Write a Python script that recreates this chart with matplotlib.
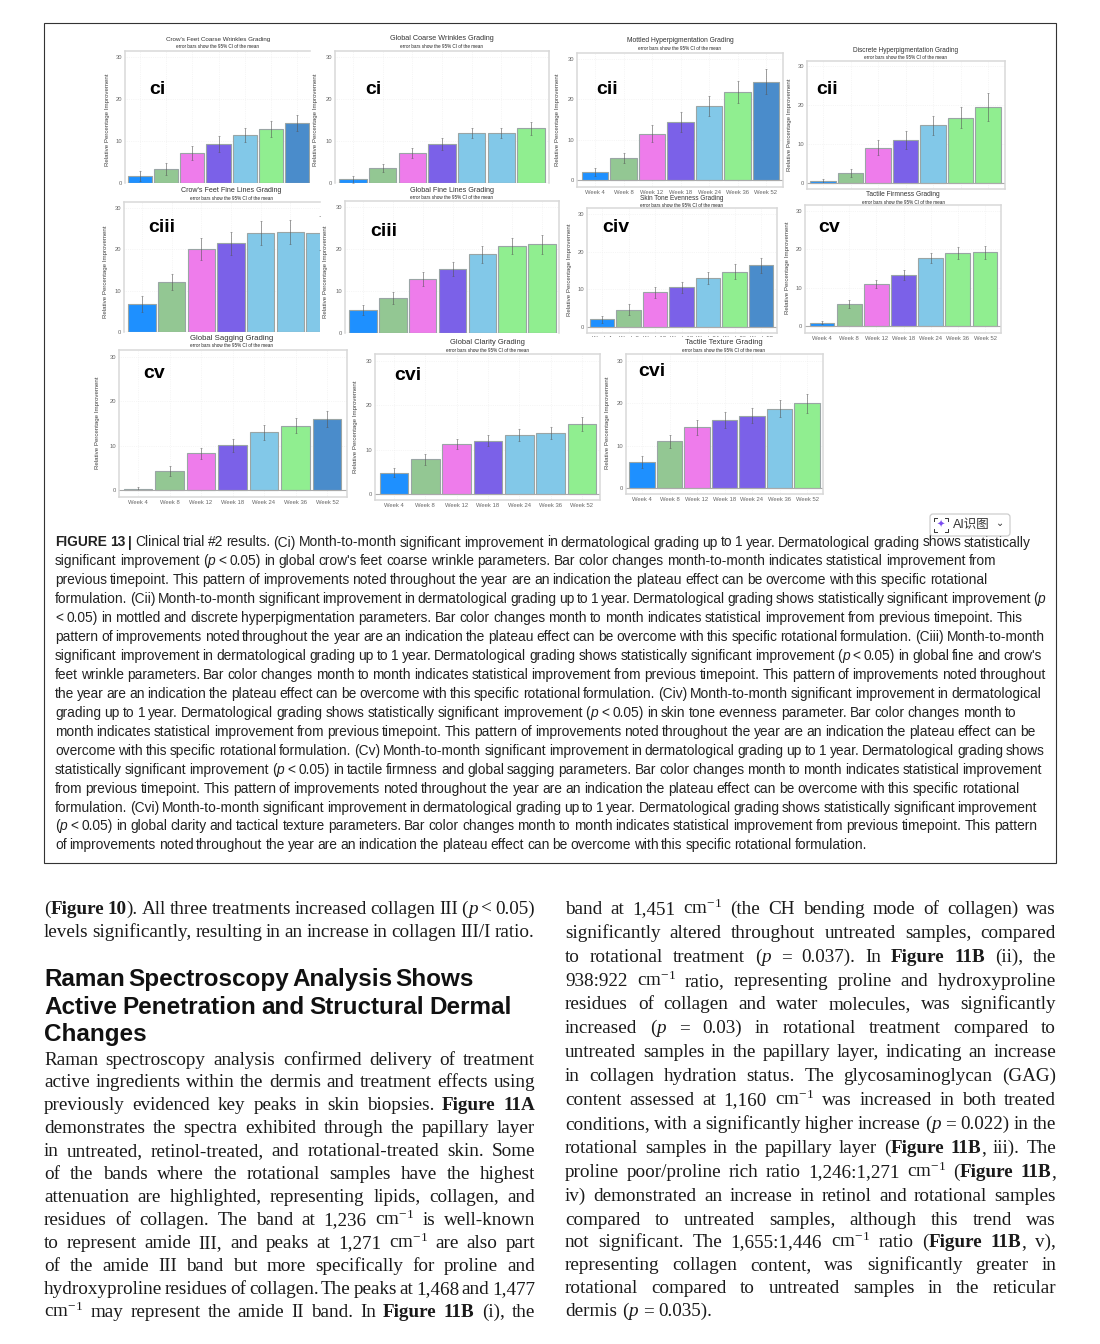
#!/usr/bin/python3

import re
import numpy as np
import matplotlib
matplotlib.use("Agg")
import matplotlib.pyplot as plt
from matplotlib.patches import FancyBboxPatch, Rectangle

plt.rcParams["font.family"] = ["Liberation Sans", "Noto Sans CJK SC", "DejaVu Sans"]
plt.rcParams["mathtext.fontset"] = "custom"
plt.rcParams["mathtext.rm"] = "Liberation Serif"
plt.rcParams["mathtext.default"] = "rm"

WEEKS = ["Week 4", "Week 8", "Week 12", "Week 18", "Week 24", "Week 36", "Week 52"]

TITLES = ["Crow's Feet Coarse Wrinkles Grading", "Global Coarse Wrinkles Grading",
          "Mottled Hyperpigmentation Grading", "Discrete Hyperpigmentation Grading",
          "Crow's Feet Fine Lines Grading", "Global Fine Lines Grading",
          "Skin Tone Evenness Grading", "Tactile Firmness Grading",
          "Global Sagging Grading", "Global Clarity Grading", "Tactile Texture Grading"]
TAGS = ["ci", "ci", "cii", "cii", "ciii", "ciii", "civ", "cv", "cv", "cvi", "cvi"]

VALUES = [
    [1.7, 3.3, 7.1, 9.3, 11.5, 12.9, 14.2],
    [0.9, 3.6, 7.2, 9.2, 11.9, 11.9, 13.0],
    [1.9, 5.4, 11.5, 14.4, 18.4, 21.8, 24.4],
    [0.5, 2.6, 9.1, 11.1, 14.8, 16.7, 19.6],
    [6.8, 12.0, 20.0, 21.4, 23.9, 24.1, 23.9],
    [5.4, 8.3, 12.9, 15.3, 18.7, 20.6, 21.1],
    [2.0, 4.6, 9.2, 10.5, 12.9, 14.7, 16.4],
    [0.9, 5.8, 10.9, 13.4, 17.7, 19.0, 19.3],
    [0.3, 4.3, 8.3, 10.1, 13.0, 14.5, 16.0],
    [4.8, 7.8, 11.2, 12.0, 13.3, 13.8, 15.8],
    [6.2, 11.0, 14.3, 16.0, 17.1, 18.7, 20.0],
]
ERRORS = [
    [1.2, 1.4, 1.6, 1.8, 1.7, 1.9, 1.9],
    [0.8, 1.0, 1.2, 1.4, 1.3, 1.3, 1.5],
    [1.0, 1.3, 2.1, 2.4, 2.5, 2.7, 3.1],
    [0.4, 1.0, 2.0, 2.3, 2.5, 2.7, 3.6],
    [1.9, 1.9, 2.6, 2.8, 2.9, 2.9, 4.2],
    [1.2, 1.4, 1.6, 1.7, 2.0, 1.9, 2.2],
    [1.0, 1.4, 1.4, 1.5, 1.6, 1.9, 2.0],
    [0.5, 1.0, 1.1, 1.3, 1.3, 1.6, 1.7],
    [0.3, 1.1, 1.2, 1.5, 1.7, 1.7, 1.8],
    [1.0, 1.2, 1.1, 1.2, 1.4, 1.4, 1.5],
    [1.4, 1.5, 1.7, 1.9, 1.8, 2.0, 2.2],
]

BLUE, SAGE, PINK, PURPLE, SKY, GREEN, STEEL = ("#1E90FF", "#93C793", "#EE7CEB", "#7B61E8",
                                               "#82C8E8", "#90EE90", "#4A8CCB")
COLORS = [
    [BLUE, SAGE, PINK, PURPLE, SKY, GREEN, STEEL],
    [BLUE, SAGE, PINK, PURPLE, SKY, SKY, GREEN],
    [BLUE, SAGE, PINK, PURPLE, SKY, GREEN, STEEL],
    [BLUE, SAGE, PINK, PURPLE, SKY, GREEN, GREEN],
    [BLUE, SAGE, PINK, PURPLE, SKY, SKY, SKY],
    [BLUE, SAGE, PINK, PURPLE, SKY, GREEN, GREEN],
    [BLUE, SAGE, PINK, PURPLE, SKY, GREEN, STEEL],
    [BLUE, SAGE, PINK, PURPLE, SKY, GREEN, GREEN],
    [BLUE, SAGE, PINK, PURPLE, SKY, GREEN, STEEL],
    [BLUE, SAGE, PINK, PURPLE, SKY, SKY, GREEN],
    [BLUE, SAGE, PINK, PURPLE, PURPLE, SKY, GREEN],
]

# left, top, right, bottom, pixel of y=30, pixel of y=0, first bar centre, last bar centre
BOXES = [
    (125, 51, 310, 183, 57, 183, 140, 297),
    (335, 51, 549, 183, 57, 183, 353, 531),
    (577, 53, 783, 187, 59, 180, 595, 766),
    (807, 61, 1005, 189, 66, 183, 823, 988),
    (124, 202, 320, 332, 208, 335.5, 142, 320),
    (345, 201, 559, 333, 207, 334, 363, 542),
    (587, 208, 777, 333, 214, 327, 602, 761),
    (805, 205, 1001, 333, 211, 326, 822, 985),
    (119, 350, 347, 497, 357, 490, 138, 327),
    (375, 354, 600, 500, 361, 494, 394, 582),
    (626, 354, 823, 494, 361, 488, 642, 807),
]
TITLE_POS = [(218, 39), (442, 39), (680, 41), (906, 50), (231, 191), (452, 190),
             (682, 198), (903, 195), (232, 338), (487, 343), (724, 343)]
TITLE_SIZE = [4.5, 5.2, 4.9, 4.7, 5.1, 5.2, 4.7, 4.8, 5.6, 5.4, 5.4]
TAG_POS = [(157, 90), (373, 90), (607, 90), (827, 90), (162, 228), (384, 232),
           (616, 228), (829, 228), (154, 373), (408, 375), (652, 371)]
YLABEL_POS = [(107, 120), (316, 120), (558, 120), (789, 125), (105, 272), (325, 272),
              (569, 270), (788, 268), (98, 423), (356, 427), (608, 423)]
HAS_WEEKS = [False, False, True, False, False, False, True, True, True, True, True]

CAPTION = [
    ("<b>FIGURE 13 |</b> Clinical trial #2 results. (Ci) Month-to-month significant improvement in dermatological grading up to 1 year. Dermatological grading shows statistically", 1031),
    ("significant improvement (<i>p</i> < 0.05) in global crow's feet coarse wrinkle parameters. Bar color changes month-to-month indicates statistical improvement from", 996),
    ("previous timepoint. This pattern of improvements noted throughout the year are an indication the plateau effect can be overcome with this specific rotational", 987),
    ("formulation. (Cii) Month-to-month significant improvement in dermatological grading up to 1 year. Dermatological grading shows statistically significant improvement (<i>p</i>", 1045),
    ("< 0.05) in mottled and discrete hyperpigmentation parameters. Bar color changes month to month indicates statistical improvement from previous timepoint. This", 1023),
    ("pattern of improvements noted throughout the year are an indication the plateau effect can be overcome with this specific rotational formulation. (Ciii) Month-to-month", 1045),
    ("significant improvement in dermatological grading up to 1 year. Dermatological grading shows statistically significant improvement (<i>p</i> < 0.05) in global fine and crow's", 1042),
    ("feet wrinkle parameters. Bar color changes month to month indicates statistical improvement from previous timepoint. This pattern of improvements noted throughout", 1046),
    ("the year are an indication the plateau effect can be overcome with this specific rotational formulation. (Civ) Month-to-month significant improvement in dermatological", 1041),
    ("grading up to 1 year. Dermatological grading shows statistically significant improvement (<i>p</i> < 0.05) in skin tone evenness parameter. Bar color changes month to", 1016),
    ("month indicates statistical improvement from previous timepoint. This pattern of improvements noted throughout the year are an indication the plateau effect can be", 1035),
    ("overcome with this specific rotational formulation. (Cv) Month-to-month significant improvement in dermatological grading up to 1 year. Dermatological grading shows", 1045),
    ("statistically significant improvement (<i>p</i> < 0.05) in tactile firmness and global sagging parameters. Bar color changes month to month indicates statistical improvement", 1042),
    ("from previous timepoint. This pattern of improvements noted throughout the year are an indication the plateau effect can be overcome with this specific rotational", 1019),
    ("formulation. (Cvi) Month-to-month significant improvement in dermatological grading up to 1 year. Dermatological grading shows statistically significant improvement", 1037),
    ("(<i>p</i> < 0.05) in global clarity and tactical texture parameters. Bar color changes month to month indicates statistical improvement from previous timepoint. This pattern", 1037),
    ("of improvements noted throughout the year are an indication the plateau effect can be overcome with this specific rotational formulation.", 867),
]

LEFT_TOP = [
    ("(<b>Figure 10</b>). All three treatments increased collagen III (<i>p</i> < 0.05)", 908),
    ("levels significantly, resulting in an increase in collagen III/I ratio.", 931),
]
HEADING = [("Raman Spectroscopy Analysis Shows", 978, 474),
           ("Active Penetration and Structural Dermal", 1006, 512),
           ("Changes", 1033, 145)]
LEFT_BODY = [
    ("Raman spectroscopy analysis confirmed delivery of treatment", 1059),
    ("active ingredients within the dermis and treatment effects using", 1081),
    ("previously evidenced key peaks in skin biopsies. <b>Figure 11A</b>", 1104),
    ("demonstrates the spectra exhibited through the papillary layer", 1127),
    ("in untreated, retinol-treated, and rotational-treated skin. Some", 1150),
    ("of the bands where the rotational samples have the highest", 1173),
    ("attenuation are highlighted, representing lipids, collagen, and", 1196),
    ("residues of collagen. The band at 1,236 cm$^{-1}$ is well-known", 1219),
    ("to represent amide III, and peaks at 1,271 cm$^{-1}$ are also part", 1242),
    ("of the amide III band but more specifically for proline and", 1265),
    ("hydroxyproline residues of collagen. The peaks at 1,468 and 1,477", 1288),
    ("cm$^{-1}$ may represent the amide II band. In <b>Figure 11B</b> (i), the", 1311),
]
RIGHT_BODY = [
    ("band at 1,451 cm$^{-1}$ (the CH bending mode of collagen) was", 908),
    ("significantly altered throughout untreated samples, compared", 932),
    ("to rotational treatment (<i>p</i> = 0.037). In <b>Figure 11B</b> (ii), the", 956),
    ("938:922 cm$^{-1}$ ratio, representing proline and hydroxyproline", 980),
    ("residues of collagen and water molecules, was significantly", 1003),
    ("increased (<i>p</i> = 0.03) in rotational treatment compared to", 1027),
    ("untreated samples in the papillary layer, indicating an increase", 1051),
    ("in collagen hydration status. The glycosaminoglycan (GAG)", 1075),
    ("content assessed at 1,160 cm$^{-1}$ was increased in both treated", 1099),
    ("conditions, with a significantly higher increase (<i>p</i> = 0.022) in the", 1123),
    ("rotational samples in the papillary layer (<b>Figure 11B</b>, iii). The", 1147),
    ("proline poor/proline rich ratio 1,246:1,271 cm$^{-1}$ (<b>Figure 11B</b>,", 1171),
    ("iv) demonstrated an increase in retinol and rotational samples", 1195),
    ("compared to untreated samples, although this trend was", 1219),
    ("not significant. The 1,655:1,446 cm$^{-1}$ ratio (<b>Figure 11B</b>, v),", 1241),
    ("representing collagen content, was significantly greater in", 1264),
    ("rotational compared to untreated samples in the reticular", 1287),
    ("dermis (<i>p</i> = 0.035).", 1310),
]

W, H = 1100, 1344
fig = plt.figure(figsize=(W / 100, H / 100), dpi=100, facecolor="white")
page = fig.add_axes([0, 0, 1, 1], zorder=1)
page.set_xlim(0, W)
page.set_ylim(H, 0)
page.axis("off")
top = fig.add_axes([0, 0, 1, 1], zorder=5)
top.set_xlim(0, W)
top.set_ylim(H, 0)
top.axis("off")
top.patch.set_alpha(0)
renderer = fig.canvas.get_renderer()


def draw_panel(i):
    left, ptop, right, bottom, y30, y0, c0, c6 = BOXES[i]
    ax = fig.add_axes([left / W, 1 - bottom / H, (right - left) / W, (bottom - ptop) / H], zorder=2)
    step = (c6 - c0) / 6
    ax.set_xlim((left - c0) / step, (right - c0) / step)
    per = (y0 - y30) / 30
    ax.set_ylim((y0 - bottom) / per, (y0 - ptop) / per)
    x = np.arange(7)
    ax.grid(True, color="#eeeeee", lw=0.5, ls=":")
    ax.set_axisbelow(True)
    ax.bar(x, VALUES[i], width=0.92, color=COLORS[i], edgecolor="#9aa5a5", linewidth=0.8)
    ax.errorbar(x, VALUES[i], yerr=ERRORS[i], fmt="none", ecolor="#555555", elinewidth=0.5,
                capsize=0.8, capthick=0.4, alpha=0.8)
    ax.axhline(0, color="#aaaaaa", lw=0.8)
    ax.set_yticks([0, 10, 20, 30])
    ax.set_xticks(x)
    ax.set_xticklabels(WEEKS if HAS_WEEKS[i] else [""] * 7)
    ax.tick_params(axis="both", labelsize=4.2, labelcolor="#666666", length=0, pad=2)
    for s in ax.spines.values():
        s.set_color("#d8d8d8")
        s.set_linewidth(1.1)
    if i in (0, 4):
        ax.spines["right"].set_visible(False)
    if i in (0, 1, 4, 5):
        ax.spines["bottom"].set_visible(False)
    tx, ty = TITLE_POS[i]
    top.text(tx, ty, TITLES[i], fontsize=TITLE_SIZE[i], color="#333333", ha="center", va="center")
    top.text(tx, ty + 7.5, "error bars show the 95% CI of the mean", fontsize=3.3, color="#222222",
             ha="center", va="center")
    lx, ly = YLABEL_POS[i]
    page.text(lx, ly, "Relative Percentage Improvement", fontsize=4.4, color="#444444",
              rotation=90, ha="center", va="center")
    gx, gy = TAG_POS[i]
    top.text(gx, gy, TAGS[i], fontsize=14, fontweight="bold", color="black", ha="center", va="center")


def parse_line(line):
    words = []
    space = False
    for part in re.split(r"(<b>.*?</b>|<i>.*?</i>)", line):
        weight, style = "normal", "normal"
        if part.startswith("<b>"):
            weight = "bold"
        if part.startswith("<i>"):
            style = "italic"
        inner = re.sub(r"</?[bi]>", "", part)
        for tok in re.findall(r"\s+|\S+", inner):
            if tok.isspace():
                space = True
            else:
                words.append((tok, weight, style, space))
                space = False
    return words


def put_line(line, x0, x1, y, size, family, weight="normal", color="#1a1a1a"):
    # spread the words so the line ends at x1, like the typeset page
    items = []
    for tok, wgt, style, space in parse_line(line):
        t = page.text(x0, y, tok, fontsize=size, family=family, fontweight="bold" if weight == "bold" else wgt,
                      fontstyle=style, color=color, ha="left", va="baseline")
        items.append((t, t.get_window_extent(renderer).width, space))
    gaps = sum(1 for it in items if it[2])
    total = sum(it[1] for it in items)
    gap = max((x1 - x0 - total) / max(gaps, 1), 1.0)
    x = x0
    for t, width, space in items:
        if space:
            x += gap
        t.set_x(x)
        x += width


for i in range(len(TITLES)):
    draw_panel(i)

# the picture is pasted tight, so the week labels of panel civ get cut
top.add_patch(Rectangle((585, 337), 200, 8, color="white", lw=0, zorder=0))

page.add_patch(Rectangle((44, 23), 1012, 840, fill=False, edgecolor="#333333", lw=0.8))

for n, (line, right) in enumerate(CAPTION):
    put_line(line, 55, right, 546.5 + n * 18.93, 9.9, "Liberation Sans", color="#222222")

SERIF = "Liberation Serif"
BODY_SIZE = 13.8
put_line(LEFT_TOP[0][0], 44, 535, LEFT_TOP[0][1] + 6, BODY_SIZE, SERIF)
put_line(LEFT_TOP[1][0], 44, 534, LEFT_TOP[1][1] + 6, BODY_SIZE, SERIF)
for text, y, right in HEADING:
    put_line(text, 44, right, y + 8, 17.5, "Liberation Sans", weight="bold", color="#111111")
for text, y in LEFT_BODY:
    put_line(text, 44, 535, y + 6, BODY_SIZE, SERIF)
for n, (text, y) in enumerate(RIGHT_BODY):
    right = 712 if n == len(RIGHT_BODY) - 1 else 1056
    put_line(text, 565, right, y + 6, BODY_SIZE, SERIF)

# the little AI button floating on the page
top.add_patch(FancyBboxPatch((930, 514), 80, 22, boxstyle="round,pad=0,rounding_size=3",
                             facecolor="white", edgecolor="#c8c8c8", lw=0.8))
for cx, dx in ((934, 3), (948, -3)):
    for cy, dy in ((518, 3), (532, -3)):
        top.plot([cx + dx, cx, cx], [cy, cy, cy + dy], color="#333333", lw=0.7)
top.text(941, 525, "✦", fontsize=7, color="#7B4DF0", ha="center", va="center", family="DejaVu Sans")
top.text(971, 525, "AI识图", fontsize=9, color="#333333", ha="center", va="center")
top.text(1000, 523, "⌄", fontsize=7, color="#333333", ha="center", va="center", family="DejaVu Sans")

fig.savefig("out.png", dpi=100, facecolor="white")
